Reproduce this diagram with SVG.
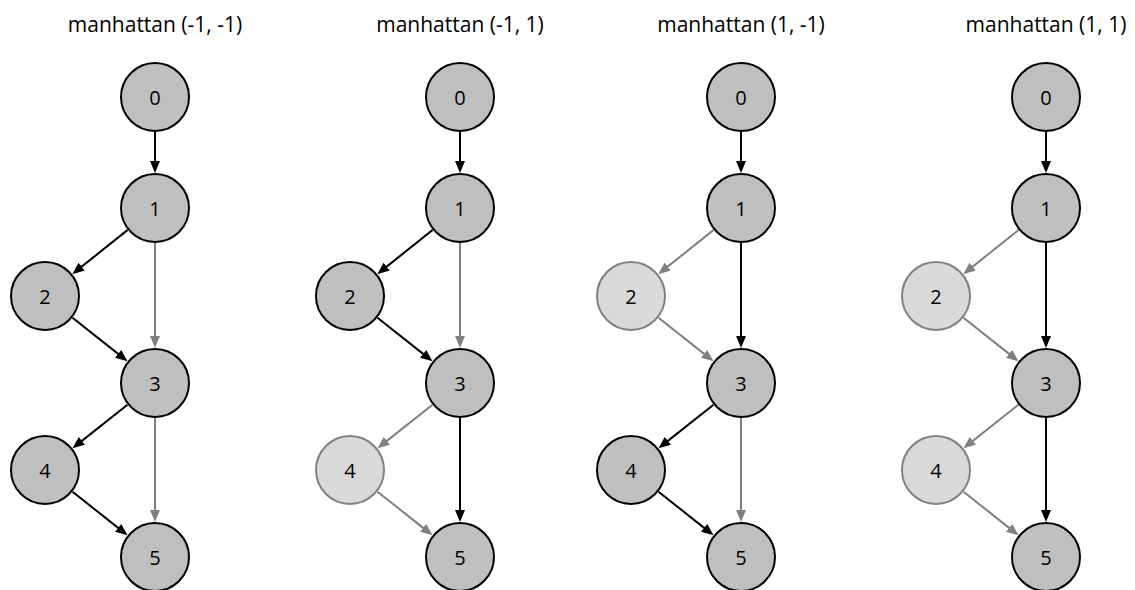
<svg xmlns="http://www.w3.org/2000/svg" width="1135" height="590" viewBox="0 0 1135 590">
  <style>
    .title { font-family: "Open Sans", "Liberation Sans", sans-serif; font-size: 21px; fill: #000; text-anchor: middle; }
    .lbl { font-family: "Open Sans", "Liberation Sans", sans-serif; font-size: 20px; fill: #000; text-anchor: middle; dominant-baseline: central; }
    .on circle { fill: #bfbfbf; stroke: #000; stroke-width: 2; }
    .off circle { fill: #d9d9d9; stroke: #808080; stroke-width: 2; }
    .e { fill: none; stroke-width: 2; }
    .k { stroke: #000; marker-end: url(#ak); }
    .g { stroke: #808080; marker-end: url(#ag); }
  </style>
  <defs>
    <marker id="ak" markerUnits="userSpaceOnUse" markerWidth="12" markerHeight="10" refX="2" refY="5" orient="auto">
      <path d="M0,0 L12,5 L0,10 Z" fill="#000"/>
    </marker>
    <marker id="ag" markerUnits="userSpaceOnUse" markerWidth="12" markerHeight="10" refX="2" refY="5" orient="auto">
      <path d="M0,0 L12,5 L0,10 Z" fill="#808080"/>
    </marker>
  </defs>
  <rect width="1135" height="590" fill="#fff"/>

  <!-- Panel 1: manhattan (-1, -1) -->
  <g id="panel1" transform="translate(155,0)">
    <text class="title" x="0" y="32">manhattan (-1, -1)</text>
    <g id="p1-edges">
      <line class="e k" x1="0" y1="132" x2="0" y2="163"/>
      <line class="e k" x1="-27.3" y1="229.9" x2="-74.9" y2="267.9"/>
      <line class="e g" x1="0" y1="243" x2="0" y2="338"/>
      <line class="e k" x1="-82.5" y1="317.7" x2="-35.3" y2="355.1"/>
      <line class="e k" x1="-27.5" y1="404.7" x2="-74.7" y2="442.1"/>
      <line class="e g" x1="0" y1="418" x2="0" y2="512"/>
      <line class="e k" x1="-82.5" y1="491.7" x2="-35.3" y2="529.1"/>
    </g>
    <g id="p1-n0" class="on"><circle cx="0" cy="97" r="34"/><text class="lbl" x="0" y="97">0</text></g>
    <g id="p1-n1" class="on"><circle cx="0" cy="208" r="34"/><text class="lbl" x="0" y="208">1</text></g>
    <g id="p1-n2" class="on"><circle cx="-110" cy="296" r="34"/><text class="lbl" x="-110" y="296">2</text></g>
    <g id="p1-n3" class="on"><circle cx="0" cy="383" r="34"/><text class="lbl" x="0" y="383">3</text></g>
    <g id="p1-n4" class="on"><circle cx="-110" cy="470" r="34"/><text class="lbl" x="-110" y="470">4</text></g>
    <g id="p1-n5" class="on"><circle cx="0" cy="557" r="34"/><text class="lbl" x="0" y="557">5</text></g>
  </g>

  <!-- Panel 2: manhattan (-1, 1) -->
  <g id="panel2" transform="translate(460,0)">
    <text class="title" x="0" y="32">manhattan (-1, 1)</text>
    <g id="p2-edges">
      <line class="e k" x1="0" y1="132" x2="0" y2="163"/>
      <line class="e k" x1="-27.3" y1="229.9" x2="-74.9" y2="267.9"/>
      <line class="e g" x1="0" y1="243" x2="0" y2="338"/>
      <line class="e k" x1="-82.5" y1="317.7" x2="-35.3" y2="355.1"/>
      <line class="e g" x1="-27.5" y1="404.7" x2="-74.7" y2="442.1"/>
      <line class="e k" x1="0" y1="418" x2="0" y2="512"/>
      <line class="e g" x1="-82.5" y1="491.7" x2="-35.3" y2="529.1"/>
    </g>
    <g id="p2-n0" class="on"><circle cx="0" cy="97" r="34"/><text class="lbl" x="0" y="97">0</text></g>
    <g id="p2-n1" class="on"><circle cx="0" cy="208" r="34"/><text class="lbl" x="0" y="208">1</text></g>
    <g id="p2-n2" class="on"><circle cx="-110" cy="296" r="34"/><text class="lbl" x="-110" y="296">2</text></g>
    <g id="p2-n3" class="on"><circle cx="0" cy="383" r="34"/><text class="lbl" x="0" y="383">3</text></g>
    <g id="p2-n4" class="off"><circle cx="-110" cy="470" r="34"/><text class="lbl" x="-110" y="470">4</text></g>
    <g id="p2-n5" class="on"><circle cx="0" cy="557" r="34"/><text class="lbl" x="0" y="557">5</text></g>
  </g>

  <!-- Panel 3: manhattan (1, -1) -->
  <g id="panel3" transform="translate(741,0)">
    <text class="title" x="0" y="32">manhattan (1, -1)</text>
    <g id="p3-edges">
      <line class="e k" x1="0" y1="132" x2="0" y2="163"/>
      <line class="e g" x1="-27.3" y1="229.9" x2="-74.9" y2="267.9"/>
      <line class="e k" x1="0" y1="243" x2="0" y2="338"/>
      <line class="e g" x1="-82.5" y1="317.7" x2="-35.3" y2="355.1"/>
      <line class="e k" x1="-27.5" y1="404.7" x2="-74.7" y2="442.1"/>
      <line class="e g" x1="0" y1="418" x2="0" y2="512"/>
      <line class="e k" x1="-82.5" y1="491.7" x2="-35.3" y2="529.1"/>
    </g>
    <g id="p3-n0" class="on"><circle cx="0" cy="97" r="34"/><text class="lbl" x="0" y="97">0</text></g>
    <g id="p3-n1" class="on"><circle cx="0" cy="208" r="34"/><text class="lbl" x="0" y="208">1</text></g>
    <g id="p3-n2" class="off"><circle cx="-110" cy="296" r="34"/><text class="lbl" x="-110" y="296">2</text></g>
    <g id="p3-n3" class="on"><circle cx="0" cy="383" r="34"/><text class="lbl" x="0" y="383">3</text></g>
    <g id="p3-n4" class="on"><circle cx="-110" cy="470" r="34"/><text class="lbl" x="-110" y="470">4</text></g>
    <g id="p3-n5" class="on"><circle cx="0" cy="557" r="34"/><text class="lbl" x="0" y="557">5</text></g>
  </g>

  <!-- Panel 4: manhattan (1, 1) -->
  <g id="panel4" transform="translate(1046,0)">
    <text class="title" x="0" y="32">manhattan (1, 1)</text>
    <g id="p4-edges">
      <line class="e k" x1="0" y1="132" x2="0" y2="163"/>
      <line class="e g" x1="-27.3" y1="229.9" x2="-74.9" y2="267.9"/>
      <line class="e k" x1="0" y1="243" x2="0" y2="338"/>
      <line class="e g" x1="-82.5" y1="317.7" x2="-35.3" y2="355.1"/>
      <line class="e g" x1="-27.5" y1="404.7" x2="-74.7" y2="442.1"/>
      <line class="e k" x1="0" y1="418" x2="0" y2="512"/>
      <line class="e g" x1="-82.5" y1="491.7" x2="-35.3" y2="529.1"/>
    </g>
    <g id="p4-n0" class="on"><circle cx="0" cy="97" r="34"/><text class="lbl" x="0" y="97">0</text></g>
    <g id="p4-n1" class="on"><circle cx="0" cy="208" r="34"/><text class="lbl" x="0" y="208">1</text></g>
    <g id="p4-n2" class="off"><circle cx="-110" cy="296" r="34"/><text class="lbl" x="-110" y="296">2</text></g>
    <g id="p4-n3" class="on"><circle cx="0" cy="383" r="34"/><text class="lbl" x="0" y="383">3</text></g>
    <g id="p4-n4" class="off"><circle cx="-110" cy="470" r="34"/><text class="lbl" x="-110" y="470">4</text></g>
    <g id="p4-n5" class="on"><circle cx="0" cy="557" r="34"/><text class="lbl" x="0" y="557">5</text></g>
  </g>
</svg>
